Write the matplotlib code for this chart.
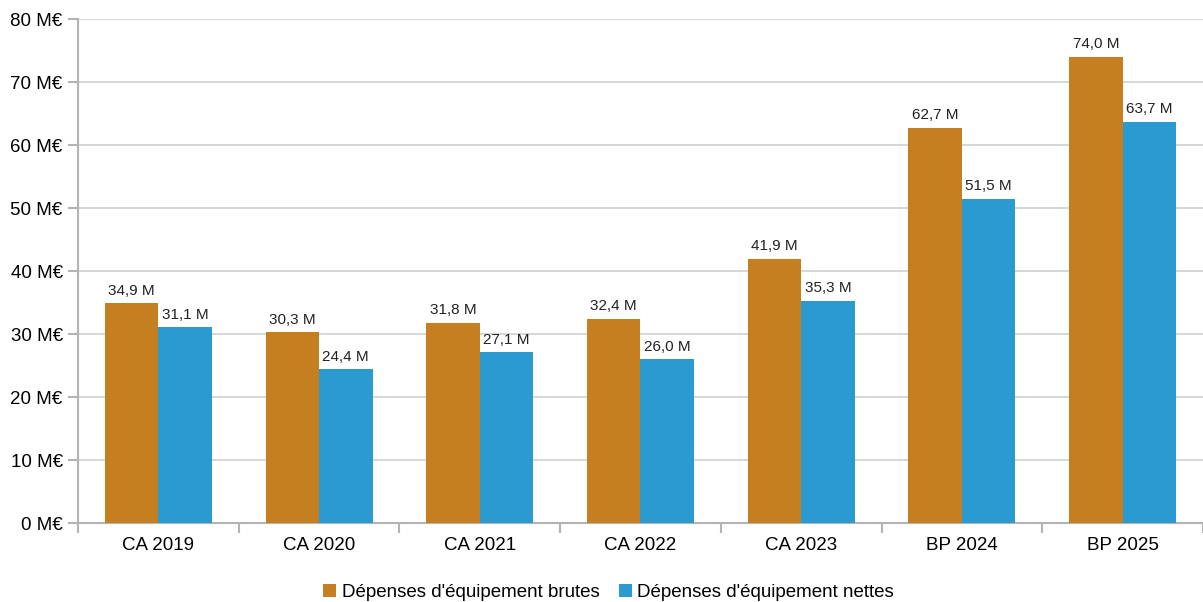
import numpy as np
import matplotlib.pyplot as plt
from matplotlib.ticker import FuncFormatter

categories = ['CA 2019', 'CA 2020', 'CA 2021', 'CA 2022', 'CA 2023', 'BP 2024', 'BP 2025']
brutes = [34.9, 30.3, 31.8, 32.4, 41.9, 62.7, 74.0]
nettes = [31.1, 24.4, 27.1, 26.0, 35.3, 51.5, 63.7]

plt.rcParams['font.family'] = ['Liberation Sans', 'DejaVu Sans']

fig = plt.figure(figsize=(12.03, 6.02), dpi=100)
ax = fig.add_axes([0.0648, 0.1312, 0.9352, 0.8372])

x = np.arange(len(categories))
w = 0.333
b1 = ax.bar(x - w / 2, brutes, w, color='#C57E20', label="Dépenses d'équipement brutes", zorder=3)
b2 = ax.bar(x + w / 2, nettes, w, color='#2A9AD0', label="Dépenses d'équipement nettes", zorder=3)

for bars, vals in ((b1, brutes), (b2, nettes)):
    for rect, v in zip(bars, vals):
        ax.annotate(f'{v:.1f} M'.replace('.', ','),
                    (rect.get_x() + rect.get_width() / 2, v),
                    xytext=(0, 4), textcoords='offset points',
                    ha='center', va='bottom', fontsize=11, color='#222222')

ax.set_xlim(-0.5, len(categories) - 0.5)
ax.set_ylim(0, 80)
ax.set_yticks(range(0, 81, 10))
ax.yaxis.set_major_formatter(FuncFormatter(lambda v, p: f'{v:.0f} M€'))
ax.set_xticks(x)
ax.set_xticklabels(categories)
ax.set_xticks(np.arange(-0.5, len(categories)), minor=True)
ax.tick_params(axis='x', which='major', length=0, labelsize=13.5, pad=10)
ax.tick_params(axis='x', which='minor', length=7, color='#b3b3b3', width=1.5)
ax.tick_params(axis='y', length=7, color='#b3b3b3', width=1.5, labelsize=13.5, pad=4)

ax.grid(axis='y', color='#cfcfcf', linewidth=1.2, zorder=0)
for side in ('top', 'right'):
    ax.spines[side].set_visible(False)
for side in ('left', 'bottom'):
    ax.spines[side].set_color('#b3b3b3')
    ax.spines[side].set_linewidth(1.5)

fig.legend(loc='lower center', bbox_to_anchor=(0.506, -0.027), ncol=2, frameon=False,
           fontsize=13.5, handlelength=0.7, handleheight=0.7, handletextpad=0.3,
           columnspacing=1.0)

fig.savefig('out.png', dpi=100)
